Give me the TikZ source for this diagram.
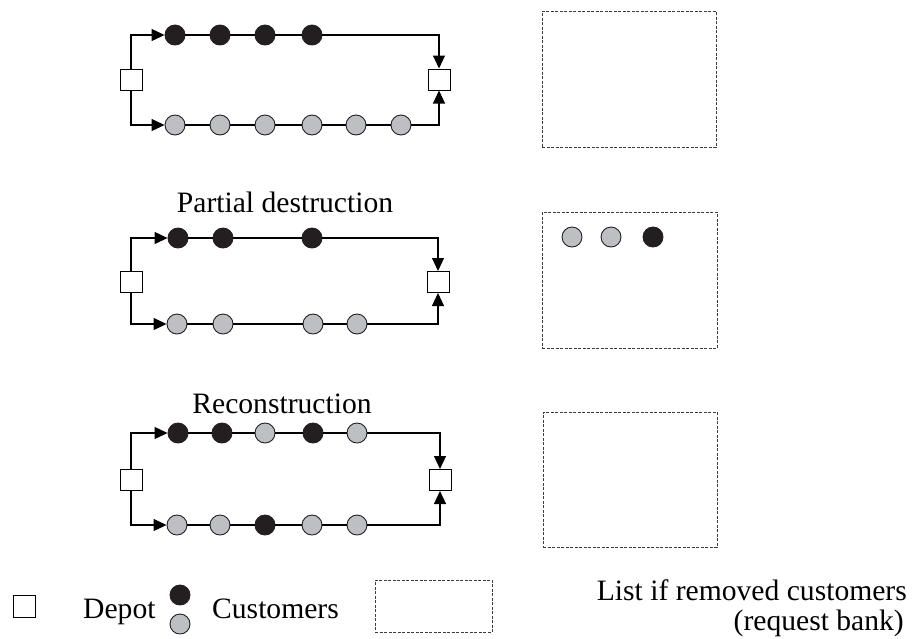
\documentclass[tikz,border=0pt]{standalone}
\usepackage{fontspec}
\setmainfont{Liberation Serif}
\usetikzlibrary{arrows.meta}
\definecolor{custblack}{RGB}{35,31,32}
\definecolor{custgray}{RGB}{190,191,195}
\definecolor{dashgray}{RGB}{60,60,60}
\begin{document}
\begin{tikzpicture}[x=1pt,y=-1pt,
  every node/.style={inner sep=0pt},
  depot/.style={draw, fill=white, line width=1pt, minimum width=22pt, minimum height=21pt},
  cblack/.style={circle, draw=custblack, fill=custblack, line width=0.9pt, minimum size=20pt},
  cgray/.style={circle, draw=custblack, fill=custgray, line width=0.9pt, minimum size=20pt},
  thinline/.style={draw=black, line width=1.1pt},
  thickline/.style={draw=black, line width=2pt},
  arr/.style={-{Triangle[length=13pt,width=12pt]}},
  bank/.style={draw=dashgray, line width=1pt, dash pattern=on 3pt off 1.5pt},
  lbl/.style={font=\fontsize{29.6}{30}\selectfont}
]
\useasboundingbox (0,0) rectangle (912,638);

% ---------- Route set 1 (initial) ----------
\node[depot] (aL) at (131,79.5) {};
\node[depot] (aR) at (439,79.5) {};
\node[cblack] (a1) at (175,35) {};
\node[cblack] (a2) at (220,35) {};
\node[cblack] (a3) at (265,35) {};
\node[cblack] (a4) at (312,35) {};
\coordinate (a4e) at (328,35);
\node[cgray] (b1) at (175,125) {};
\node[cgray] (b2) at (220,125) {};
\node[cgray] (b3) at (265,125) {};
\node[cgray] (b4) at (312,125) {};
\node[cgray] (b5) at (356,125) {};
\node[cgray] (b6) at (401,125) {};
\draw[thinline,arr] (aL.north) |- (a1.west);
\draw[thickline] (a1) -- (a2) -- (a3) -- (a4) -- (a4e);
\draw[thinline,arr] (a4e) -| (aR.north);
\draw[thinline,arr] (aL.south) |- (b1.west);
\draw[thinline] (b1) -- (b2) -- (b3) -- (b4) -- (b5) -- (b6);
\draw[thinline,arr] (b6) -| (aR.south);

\node[bank, minimum width=174pt, minimum height=136pt] (bank1) at (629,79) {};

% ---------- Partial destruction ----------
\node[lbl, anchor=base] (t2) at (285,212) {Partial destruction};
\node[depot] (cL) at (131,282) {};
\node[depot] (cR) at (438,282) {};
\node[cblack] (c1) at (178,238) {};
\node[cblack] (c2) at (223,238) {};
\node[cblack] (c3) at (312,238) {};
\coordinate (c3e) at (347,238);
\node[cgray] (d1) at (177,324) {};
\node[cgray] (d2) at (223,324) {};
\node[cgray] (d3) at (313,324) {};
\node[cgray] (d4) at (357,324) {};
\draw[thinline,arr] (cL.north) |- (c1.west);
\draw[thickline] (c1) -- (c2) -- (c3) -- (c3e);
\draw[thinline,arr] (c3e) -| (cR.north);
\draw[thinline,arr] (cL.south) |- (d1.west);
\draw[thinline] (d1) -- (d2) -- (d3) -- (d4);
\draw[thinline,arr] (d4) -| (cR.south);

\node[bank, minimum width=175pt, minimum height=136pt] (bank2) at (629.5,280) {};
\node[cgray] (r1) at (572,237) {};
\node[cgray] (r2) at (611,237) {};
\node[cblack] (r3) at (653,237) {};

% ---------- Reconstruction ----------
\node[lbl, anchor=base] (t3) at (282,413) {Reconstruction};
\node[depot] (eL) at (131,480) {};
\node[depot] (eR) at (440,480) {};
\node[cblack] (e1) at (178,433) {};
\node[cblack] (e2) at (222,433) {};
\node[cgray]  (e3) at (265,433) {};
\node[cblack] (e4) at (313,433) {};
\node[cgray]  (e5) at (357,433) {};
\node[cgray]  (f1) at (177,525) {};
\node[cgray]  (f2) at (220,525) {};
\node[cblack] (f3) at (265,525) {};
\node[cgray]  (f4) at (312,525) {};
\node[cgray]  (f5) at (357,525) {};
\draw[thinline,arr] (eL.north) |- (e1.west);
\draw[thickline] (e1) -- (e2) -- (e3) -- (e4) -- (e5);
\draw[thinline,arr] (e5) -| (eR.north);
\draw[thinline,arr] (eL.south) |- (f1.west);
\draw[thinline] (f1) -- (f2) -- (f3) -- (f4) -- (f5);
\draw[thinline,arr] (f5) -| (eR.south);

\node[bank, minimum width=174pt, minimum height=135pt] (bank3) at (630,479.5) {};

% ---------- Legend ----------
\node[draw, fill=white, line width=0.9pt, minimum width=22pt, minimum height=22pt] (lgdepot) at (24,606) {};
\node[lbl, anchor=base west] (lgdepott) at (83,618) {Depot};
\node[cblack] (lgc1) at (180,595) {};
\node[cgray] (lgc2) at (180,624) {};
\node[lbl, anchor=base west] (lgcust) at (212,618) {Customers};
\node[bank, minimum width=117pt, minimum height=52pt] (lgbank) at (433.5,606) {};
\node[lbl, anchor=base east] (lglist) at (907,600) {List if removed customers};
\node[lbl, anchor=base east] (lgreq) at (904,630) {(request bank)};
\end{tikzpicture}
\end{document}
